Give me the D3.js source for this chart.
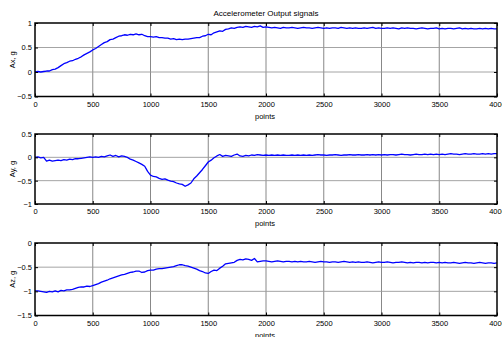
<!DOCTYPE html>
<html>
<head>
<meta charset="utf-8">
<script src="https://cdn.jsdelivr.net/npm/d3@7"></script>
<style>
  html, body { margin: 0; padding: 0; background: #fff; }
  svg { display: block; }
  text { font-family: "Liberation Sans Narrow", "Arial Narrow", "Liberation Sans", Arial, sans-serif; fill: #000; }
</style>
</head>
<body>
<svg id="chart" width="502" height="337"></svg>
<script>
// ---- data (sample step = 25 points) ----
const STEP = 25;
const title = "Accelerometer Output signals";
const xLabel = "points";
const yLabels = ["Ax, g", "Ay, g", "Az, g"];
const xTicks = [0, 500, 1000, 1500, 2000, 2500, 3000, 3500, 4000];
const yTicksAx = [-0.5, 0, 0.5, 1];
const yTicksAy = [-1, -0.5, 0, 0.5];
const yTicksAz = [-1.5, -1, -0.5, 0];

const ax = [
  0.00,0.01,0.00,0.01,0.02,0.02,0.05,0.06,0.09,0.13,
  0.17,0.19,0.22,0.23,0.26,0.28,0.31,0.35,0.38,0.41,
  0.45,0.48,0.52,0.56,0.60,0.62,0.66,0.67,0.70,0.73,
  0.74,0.76,0.75,0.77,0.76,0.78,0.76,0.77,0.74,0.72,
  0.72,0.71,0.72,0.70,0.70,0.69,0.69,0.67,0.68,0.66,
  0.67,0.66,0.67,0.67,0.68,0.69,0.70,0.70,0.73,0.74,
  0.77,0.76,0.80,0.82,0.84,0.83,0.87,0.88,0.90,0.89,
  0.91,0.92,0.91,0.93,0.92,0.91,0.93,0.92,0.94,0.91,
  0.92,
  0.91,0.90,0.91,0.90,0.89,0.91,0.90,0.90,0.91,0.90,
  0.89,0.90,0.91,0.90,0.90,0.89,0.90,0.91,0.90,0.89,
  0.90,0.89,0.90,0.90,0.89,0.91,0.90,0.89,0.90,0.89,
  0.90,0.89,0.89,0.90,0.89,0.90,0.91,0.89,0.90,0.89,
  0.89,0.90,0.89,0.90,0.89,0.88,0.90,0.89,0.90,0.89,
  0.89,0.88,0.89,0.90,0.89,0.88,0.89,0.89,0.90,0.88,
  0.89,0.88,0.89,0.89,0.88,0.89,0.90,0.88,0.89,0.88,
  0.89,0.88,0.88,0.89,0.88,0.89,0.88,0.89,0.88,0.88
];
const ay = [
  0.00,0.01,-0.01,0.00,-0.08,-0.06,-0.08,-0.07,-0.06,-0.07,
  -0.05,-0.06,-0.04,-0.05,-0.03,-0.03,-0.02,-0.01,0.00,0.01,
  0.00,0.01,0.00,0.02,0.01,0.03,0.05,0.02,0.04,0.01,
  0.03,0.02,0.00,-0.04,-0.06,-0.09,-0.12,-0.15,-0.19,-0.30,
  -0.38,-0.41,-0.42,-0.45,-0.47,-0.46,-0.49,-0.51,-0.52,-0.55,
  -0.57,-0.58,-0.62,-0.59,-0.55,-0.46,-0.40,-0.33,-0.26,-0.18,
  -0.10,-0.06,-0.01,0.03,0.06,0.02,0.04,0.03,0.02,0.05,
  0.07,0.03,0.02,0.04,0.03,0.05,0.04,0.06,0.05,0.04,
  0.05,
  0.04,0.05,0.04,0.05,0.04,0.05,0.04,0.04,0.05,0.04,
  0.05,0.04,0.05,0.04,0.05,0.04,0.05,0.06,0.05,0.05,
  0.04,0.05,0.05,0.06,0.05,0.04,0.05,0.05,0.06,0.05,
  0.05,0.06,0.05,0.05,0.06,0.05,0.06,0.05,0.06,0.05,
  0.06,0.05,0.06,0.06,0.05,0.06,0.07,0.06,0.06,0.05,
  0.06,0.07,0.06,0.06,0.07,0.06,0.07,0.06,0.07,0.06,
  0.07,0.06,0.07,0.08,0.07,0.07,0.06,0.07,0.08,0.07,
  0.07,0.08,0.07,0.07,0.08,0.07,0.08,0.07,0.08,0.08
];
const az = [
  -0.99,-0.99,-1.00,-1.01,-1.02,-1.00,-1.01,-0.99,-1.01,-0.98,
  -0.99,-0.97,-0.97,-0.96,-0.94,-0.92,-0.91,-0.91,-0.89,-0.90,
  -0.88,-0.86,-0.84,-0.81,-0.79,-0.77,-0.74,-0.72,-0.70,-0.68,
  -0.66,-0.65,-0.63,-0.61,-0.60,-0.58,-0.58,-0.61,-0.60,-0.57,
  -0.56,-0.56,-0.54,-0.53,-0.53,-0.52,-0.51,-0.50,-0.49,-0.47,
  -0.45,-0.45,-0.47,-0.48,-0.50,-0.52,-0.54,-0.57,-0.59,-0.62,
  -0.63,-0.59,-0.56,-0.57,-0.52,-0.48,-0.43,-0.42,-0.41,-0.40,
  -0.36,-0.34,-0.35,-0.33,-0.34,-0.36,-0.32,-0.39,-0.38,-0.37,
  -0.37,
  -0.38,-0.39,-0.38,-0.37,-0.38,-0.39,-0.38,-0.38,-0.39,-0.38,
  -0.39,-0.38,-0.39,-0.39,-0.38,-0.39,-0.40,-0.39,-0.38,-0.39,
  -0.39,-0.40,-0.39,-0.39,-0.40,-0.39,-0.38,-0.39,-0.40,-0.39,
  -0.40,-0.39,-0.40,-0.40,-0.39,-0.40,-0.41,-0.40,-0.39,-0.40,
  -0.40,-0.39,-0.40,-0.41,-0.40,-0.40,-0.39,-0.40,-0.41,-0.40,
  -0.41,-0.40,-0.40,-0.41,-0.40,-0.41,-0.40,-0.40,-0.41,-0.40,
  -0.41,-0.40,-0.41,-0.41,-0.40,-0.41,-0.42,-0.41,-0.40,-0.41,
  -0.41,-0.42,-0.41,-0.40,-0.41,-0.42,-0.41,-0.41,-0.42,-0.41
];

// ---- layout ----
const svg = d3.select("#chart");
const left = 35, right = 497;
const panels = [
  { data: ax, ticks: yTicksAx, label: yLabels[0], top: 23,  bottom: 96.5 },
  { data: ay, ticks: yTicksAy, label: yLabels[1], top: 134, bottom: 204 },
  { data: az, ticks: yTicksAz, label: yLabels[2], top: 243, bottom: 315.5 }
];
const x = d3.scaleLinear().domain([0, 4000]).range([left, right]);

svg.append("text")
  .attr("x", (left + right) / 2).attr("y", 15.5)
  .attr("text-anchor", "middle")
  .style("font-size", "8px")
  .text(title);

panels.forEach(p => {
  const y = d3.scaleLinear().domain(d3.extent(p.ticks)).range([p.bottom, p.top]);
  const g = svg.append("g");

  // grid
  g.selectAll(".vg").data(xTicks.slice(1, -1)).join("line")
    .attr("x1", d => x(d)).attr("x2", d => x(d))
    .attr("y1", p.top).attr("y2", p.bottom)
    .attr("stroke", "#7a7a7a").attr("stroke-width", 0.9);
  g.selectAll(".hg").data(p.ticks.slice(1, -1)).join("line")
    .attr("x1", left).attr("x2", right)
    .attr("y1", d => y(d)).attr("y2", d => y(d))
    .attr("stroke", "#9a9a9a").attr("stroke-width", 0.9);

  // signal
  const line = d3.line().x((d, i) => x(i * STEP)).y(d => y(d));
  g.append("path").datum(p.data)
    .attr("d", line)
    .attr("fill", "none")
    .attr("stroke", "#0000ff")
    .attr("stroke-width", 1.3)
    .attr("stroke-linejoin", "round");

  // axes with inward ticks
  const bottomAxis = d3.axisBottom(x).tickValues(xTicks).tickSize(-3).tickPadding(5)
    .tickFormat(d3.format("d"));
  const gb = g.append("g").attr("transform", `translate(0,${p.bottom})`).call(bottomAxis);
  const topAxis = d3.axisTop(x).tickValues(xTicks).tickSize(-3).tickFormat("");
  const gt = g.append("g").attr("transform", `translate(0,${p.top})`).call(topAxis);
  const leftAxis = d3.axisLeft(y).tickValues(p.ticks).tickSize(-3).tickPadding(3)
    .tickFormat(d => d3.format("")(d));
  const gl = g.append("g").attr("transform", `translate(${left},0)`).call(leftAxis);
  const rightAxis = d3.axisRight(y).tickValues(p.ticks).tickSize(-3).tickFormat("");
  const gr = g.append("g").attr("transform", `translate(${right},0)`).call(rightAxis);

  [gb, gt, gl, gr].forEach(a => {
    a.select(".domain").remove();
    a.selectAll(".tick line").attr("stroke", "#000").attr("stroke-width", 1);
    a.selectAll("text").style("font-size", "7.5px").style("font-family", null).attr("fill", "#000");
  });
  gb.selectAll("text").attr("dy", "0.71em");

  // box
  g.append("rect")
    .attr("x", left).attr("y", p.top)
    .attr("width", right - left).attr("height", p.bottom - p.top)
    .attr("fill", "none").attr("stroke", "#000").attr("stroke-width", 1.5);

  // labels
  g.append("text")
    .attr("transform", `translate(15,${(p.top + p.bottom) / 2}) rotate(-90)`)
    .attr("text-anchor", "middle")
    .style("font-size", "7.5px")
    .text(p.label);
  g.append("text")
    .attr("x", 265).attr("y", p.bottom + 22)
    .attr("text-anchor", "middle")
    .style("font-size", "7.5px")
    .text(xLabel);
});
</script>
</body>
</html>
